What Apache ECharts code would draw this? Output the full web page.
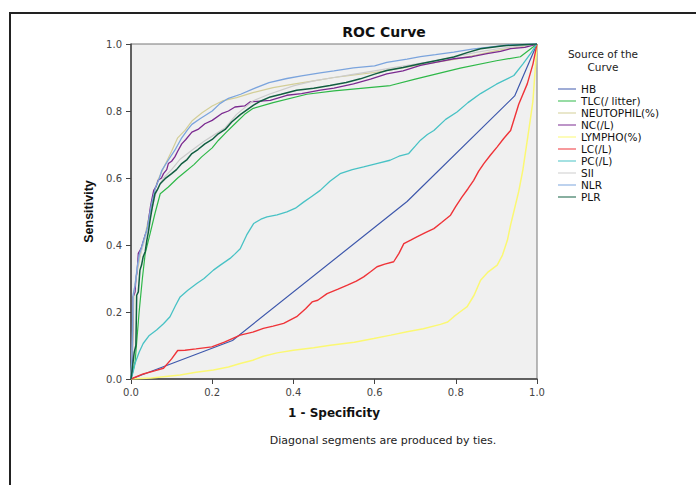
<!DOCTYPE html>
<html>
<head>
<meta charset="utf-8">
<script src="https://cdn.jsdelivr.net/npm/echarts@6/dist/echarts.min.js"></script>
<style>html,body{margin:0;padding:0;background:#fff;}#chart{width:696px;height:485px;}</style>
</head>
<body>
<div id="chart"></div>
<script>
const seriesNames = ['HB', 'TLC(/ litter)', 'NEUTOPHIL(%)', 'NC(/L)', 'LYMPHO(%)', 'LC(/L)', 'PC(/L)', 'SII', 'NLR', 'PLR'];
const xTicks = [0, 0.2, 0.4, 0.6, 0.8, 1.0];
const yTicks = [0, 0.2, 0.4, 0.6, 0.8, 1.0];

const HB = [[0,0],[0.25,0.115],[0.68,0.53],[0.945,0.845],[1,1]];
const TLC = [[0,0],[0.01,0.05],[0.02,0.2],[0.028,0.3],[0.035,0.375],[0.047,0.434],[0.059,0.494],[0.072,0.553],[0.092,0.573],[0.115,0.6],[0.133,0.618],[0.155,0.64],[0.174,0.663],[0.2,0.69],[0.215,0.712],[0.235,0.737],[0.256,0.762],[0.28,0.79],[0.301,0.808],[0.35,0.825],[0.433,0.85],[0.5,0.86],[0.639,0.876],[0.7,0.895],[0.811,0.928],[0.9,0.95],[0.959,0.962],[1,1]];
const NEUTOPHIL = [[0,0],[0.004,0.1],[0.007,0.25],[0.015,0.32],[0.025,0.38],[0.035,0.43],[0.045,0.49],[0.055,0.55],[0.065,0.59],[0.08,0.63],[0.1,0.68],[0.115,0.72],[0.133,0.742],[0.15,0.77],[0.175,0.795],[0.2,0.815],[0.225,0.83],[0.26,0.84],[0.3,0.855],[0.35,0.87],[0.4,0.88],[0.45,0.89],[0.5,0.9],[0.55,0.908],[0.6,0.915],[0.65,0.925],[0.7,0.935],[0.75,0.945],[0.8,0.955],[0.85,0.967],[0.9,0.98],[0.95,0.99],[1,1]];
const NC = [[0,0],[0.003,0.02],[0.005,0.245],[0.01,0.26],[0.012,0.3],[0.015,0.32],[0.018,0.375],[0.025,0.39],[0.03,0.41],[0.035,0.43],[0.04,0.445],[0.045,0.49],[0.048,0.515],[0.052,0.54],[0.056,0.563],[0.062,0.575],[0.067,0.593],[0.075,0.6],[0.08,0.613],[0.088,0.625],[0.092,0.643],[0.1,0.65],[0.108,0.663],[0.115,0.68],[0.125,0.702],[0.135,0.715],[0.15,0.737],[0.165,0.745],[0.182,0.762],[0.2,0.772],[0.223,0.792],[0.24,0.8],[0.256,0.812],[0.28,0.815],[0.293,0.827],[0.343,0.832],[0.384,0.847],[0.42,0.852],[0.466,0.862],[0.5,0.868],[0.548,0.881],[0.59,0.895],[0.63,0.911],[0.67,0.92],[0.713,0.936],[0.75,0.945],[0.795,0.956],[0.84,0.962],[0.877,0.971],[0.91,0.978],[0.935,0.986],[0.97,0.99],[1,1]];
const LYMPHO = [[0,0],[0.05,0.003],[0.121,0.012],[0.16,0.02],[0.203,0.027],[0.24,0.036],[0.269,0.046],[0.3,0.056],[0.326,0.068],[0.36,0.078],[0.4,0.086],[0.45,0.093],[0.491,0.101],[0.55,0.11],[0.598,0.121],[0.64,0.131],[0.68,0.141],[0.72,0.15],[0.762,0.163],[0.78,0.17],[0.795,0.186],[0.81,0.2],[0.828,0.216],[0.845,0.25],[0.861,0.295],[0.88,0.32],[0.902,0.34],[0.915,0.37],[0.927,0.414],[0.935,0.46],[0.943,0.5],[0.955,0.56],[0.965,0.623],[0.976,0.712],[0.983,0.77],[0.99,0.83],[1,1]];
const LC = [[0,0],[0.03,0.015],[0.06,0.025],[0.08,0.032],[0.1,0.06],[0.115,0.085],[0.133,0.086],[0.16,0.09],[0.199,0.096],[0.23,0.11],[0.269,0.131],[0.3,0.14],[0.326,0.151],[0.35,0.158],[0.376,0.166],[0.408,0.186],[0.43,0.21],[0.446,0.23],[0.46,0.235],[0.483,0.255],[0.51,0.268],[0.533,0.28],[0.555,0.292],[0.573,0.305],[0.59,0.32],[0.606,0.335],[0.625,0.343],[0.647,0.35],[0.66,0.375],[0.672,0.404],[0.69,0.415],[0.704,0.424],[0.725,0.437],[0.746,0.449],[0.765,0.467],[0.787,0.489],[0.8,0.515],[0.815,0.543],[0.83,0.568],[0.844,0.593],[0.856,0.62],[0.869,0.643],[0.885,0.668],[0.902,0.693],[0.918,0.718],[0.935,0.742],[0.955,0.82],[0.976,0.881],[0.99,0.94],[1,1]];
const PC = [[0,0],[0.005,0.02],[0.01,0.047],[0.02,0.08],[0.03,0.106],[0.045,0.13],[0.063,0.146],[0.08,0.165],[0.096,0.186],[0.11,0.22],[0.121,0.245],[0.14,0.265],[0.162,0.285],[0.18,0.3],[0.203,0.325],[0.22,0.34],[0.244,0.36],[0.255,0.372],[0.269,0.389],[0.285,0.43],[0.302,0.464],[0.32,0.477],[0.335,0.484],[0.36,0.49],[0.384,0.499],[0.405,0.51],[0.425,0.528],[0.445,0.545],[0.466,0.563],[0.49,0.59],[0.515,0.613],[0.545,0.625],[0.573,0.633],[0.605,0.643],[0.638,0.653],[0.66,0.665],[0.684,0.673],[0.7,0.695],[0.713,0.713],[0.73,0.73],[0.746,0.742],[0.775,0.775],[0.803,0.797],[0.83,0.825],[0.861,0.852],[0.9,0.88],[0.943,0.906],[0.965,0.94],[0.984,0.971],[1,1]];
const SII = [[0,0],[0.003,0.1],[0.006,0.25],[0.012,0.3],[0.02,0.36],[0.03,0.4],[0.04,0.44],[0.05,0.5],[0.06,0.55],[0.07,0.58],[0.08,0.6],[0.1,0.625],[0.12,0.655],[0.15,0.683],[0.18,0.71],[0.2,0.725],[0.232,0.75],[0.26,0.79],[0.3,0.83],[0.34,0.85],[0.4,0.875],[0.45,0.89],[0.5,0.9],[0.55,0.91],[0.6,0.92],[0.65,0.93],[0.7,0.94],[0.75,0.95],[0.8,0.962],[0.85,0.975],[0.9,0.985],[0.95,0.993],[1,1]];
const NLR = [[0,0],[0.003,0.1],[0.005,0.25],[0.01,0.28],[0.015,0.33],[0.02,0.37],[0.03,0.41],[0.04,0.45],[0.05,0.52],[0.06,0.57],[0.07,0.6],[0.076,0.623],[0.09,0.65],[0.108,0.683],[0.125,0.72],[0.14,0.745],[0.15,0.76],[0.17,0.777],[0.2,0.8],[0.219,0.822],[0.24,0.838],[0.27,0.85],[0.301,0.866],[0.34,0.885],[0.384,0.897],[0.42,0.905],[0.466,0.914],[0.5,0.92],[0.548,0.929],[0.6,0.935],[0.63,0.945],[0.68,0.955],[0.713,0.962],[0.75,0.968],[0.795,0.976],[0.84,0.985],[0.877,0.99],[0.93,0.997],[1,1]];
const PLR = [[0,0],[0.004,0.04],[0.008,0.08],[0.012,0.1],[0.014,0.25],[0.018,0.26],[0.022,0.325],[0.026,0.34],[0.03,0.365],[0.035,0.38],[0.039,0.414],[0.043,0.44],[0.047,0.474],[0.052,0.51],[0.059,0.553],[0.065,0.565],[0.072,0.583],[0.084,0.598],[0.1,0.613],[0.112,0.625],[0.125,0.643],[0.138,0.655],[0.15,0.673],[0.165,0.685],[0.182,0.702],[0.2,0.715],[0.215,0.732],[0.232,0.745],[0.248,0.767],[0.27,0.79],[0.301,0.817],[0.32,0.83],[0.343,0.842],[0.37,0.85],[0.408,0.862],[0.45,0.868],[0.49,0.876],[0.53,0.885],[0.565,0.896],[0.6,0.91],[0.63,0.921],[0.67,0.93],[0.713,0.941],[0.75,0.95],[0.795,0.961],[0.83,0.975],[0.861,0.986],[0.918,0.995],[1,1]];

const seriesData = [HB, TLC, NEUTOPHIL, NC, LYMPHO, LC, PC, SII, NLR, PLR];
const colors = ['#3e58ac', '#2eb848', '#d3ce97', '#7b2a90', '#fbf873', '#ef3338', '#48c2c5', '#cccccc', '#7ba4dd', '#115e41'];
const widths = [1.2, 1.2, 1.2, 1.3, 1.5, 1.4, 1.3, 1.2, 1.3, 1.5];

const chart = echarts.init(document.getElementById('chart'), null, {renderer: 'svg'});
const font = 'DejaVu Sans';
chart.setOption({
  animation: false,
  backgroundColor: '#ffffff',
  grid: {
    left: 131, top: 44, right: 159, bottom: 106,
    show: true, backgroundColor: '#f0f0f0', borderColor: '#777', borderWidth: 1,
    containLabel: false, outerBoundsMode: 'none'
  },
  xAxis: {
    type: 'value', min: 0, max: 1, interval: 0.2,
    name: '1 - Specificity', nameLocation: 'middle', nameGap: 28,
    nameTextStyle: {fontFamily: font, fontWeight: 'bold', fontSize: 12, color: '#111'},
    axisLine: {show: true, onZero: false, lineStyle: {color: '#444', width: 1.5}},
    axisTick: {show: true, length: 5, lineStyle: {color: '#444'}},
    axisLabel: {fontFamily: font, fontSize: 10, color: '#444', margin: 8, formatter: v => xTicks.includes(v) ? v.toFixed(1) : ''},
    splitLine: {show: false}
  },
  yAxis: {
    type: 'value', min: 0, max: 1, interval: 0.2,
    name: 'Sensitivity', nameLocation: 'middle', nameGap: 36, nameRotate: 90,
    nameTextStyle: {fontFamily: 'Liberation Sans', fontWeight: 'bold', fontSize: 12.5, color: '#111'},
    axisLine: {show: true, onZero: false, lineStyle: {color: '#444', width: 1.5}},
    axisTick: {show: true, length: 5, lineStyle: {color: '#444'}},
    axisLabel: {fontFamily: font, fontSize: 10, color: '#444', margin: 9, formatter: v => yTicks.includes(v) ? v.toFixed(1) : ''},
    splitLine: {show: false}
  },
  legend: {
    orient: 'vertical', left: 553, top: 78,
    itemWidth: 18, itemHeight: 12, itemGap: 0,
    icon: 'path://M0,5.5L18,5.5L18,6.5L0,6.5Z',
    textStyle: {fontFamily: font, fontSize: 10.5, color: '#111', lineHeight: 12},
    data: seriesNames
  },
  series: seriesNames.map((n, i) => ({
    name: n, type: 'line', data: seriesData[i], symbol: 'none', smooth: false,
    color: colors[i],
    lineStyle: {color: colors[i], width: widths[i]},
    itemStyle: {color: colors[i]},
    z: 2 + i
  })),
  graphic: [
    {type: 'polyline', shape: {points: [[10, 485], [10, 13], [696, 13]]}, style: {stroke: '#222', lineWidth: 2, fill: null}},
    {type: 'text', x: 384, y: 32, style: {text: 'ROC Curve', font: 'bold 14px "DejaVu Sans"', fill: '#111', align: 'center', verticalAlign: 'middle'}},
    {type: 'text', x: 383, y: 440, style: {text: 'Diagonal segments are produced by ties.', font: '11px "DejaVu Sans"', fill: '#222', align: 'center', verticalAlign: 'middle'}},
    {type: 'text', x: 603, y: 54, style: {text: 'Source of the', font: '10.5px "DejaVu Sans"', fill: '#222', align: 'center', verticalAlign: 'middle'}},
    {type: 'text', x: 603, y: 66.5, style: {text: 'Curve', font: '10.5px "DejaVu Sans"', fill: '#222', align: 'center', verticalAlign: 'middle'}}
  ]
});
</script>
</body>
</html>
